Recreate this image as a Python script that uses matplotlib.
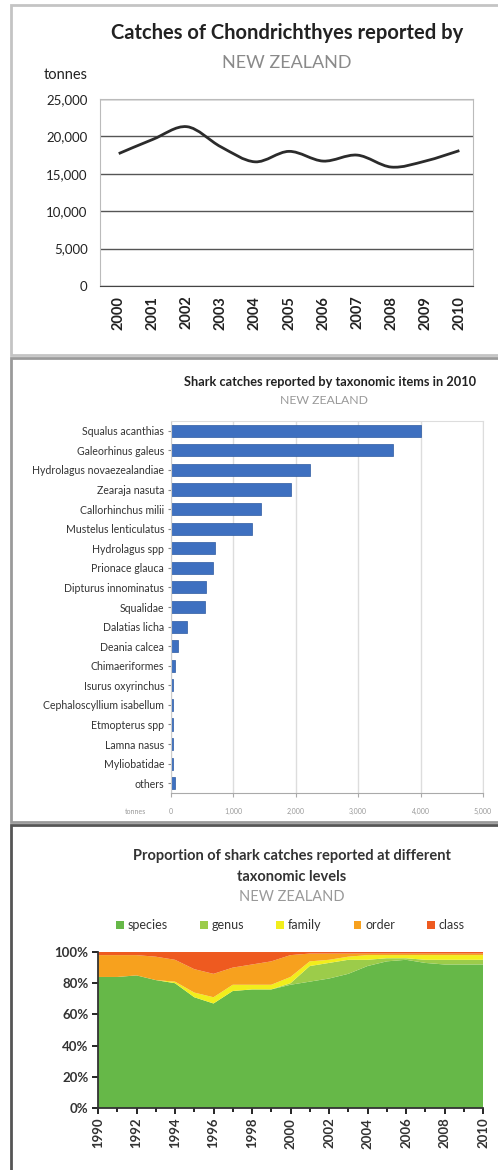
import numpy as np
import matplotlib
matplotlib.use('Agg')
import matplotlib.pyplot as plt
from matplotlib.patches import Rectangle, PathPatch
from matplotlib.path import Path
from matplotlib.ticker import FuncFormatter, MultipleLocator

plt.rcParams['font.family'] = ['Lato', 'DejaVu Sans']

# panel 1: total catches by year
years_total = ['2000', '2001', '2002', '2003', '2004', '2005', '2006', '2007', '2008', '2009', '2010']
catch_total = [17700, 19600, 21300, 18600, 16600, 18000, 16700, 17500, 15900, 16700, 18100]

# panel 2: catches by taxonomic item in 2010
taxa = ['Squalus acanthias', 'Galeorhinus galeus', 'Hydrolagus novaezealandiae', 'Zearaja nasuta',
        'Callorhinchus milii', 'Mustelus lenticulatus', 'Hydrolagus spp', 'Prionace glauca',
        'Dipturus innominatus', 'Squalidae', 'Dalatias licha', 'Deania calcea', 'Chimaeriformes',
        'Isurus oxyrinchus', 'Cephaloscyllium isabellum', 'Etmopterus spp', 'Lamna nasus',
        'Myliobatidae', 'others']
taxa_catch = [4000, 3560, 2230, 1930, 1450, 1300, 710, 670, 560, 550, 250, 120, 70, 40, 40, 40, 30, 30, 60]

# panel 3: share of catches by taxonomic level (%)
years_prop = list(range(1990, 2011))
share_species = [84, 84, 85, 82, 80, 71, 67, 75, 76, 76, 79, 81, 83, 86, 91, 94, 95, 93, 92, 92, 92]
share_genus = [0, 0, 0, 0, 0, 0, 0, 0, 0, 0, 1, 10, 10, 9, 4, 2, 1, 2, 3, 3, 3]
share_family = [0, 0, 0, 0, 1, 3, 4, 4, 3, 3, 4, 3, 2, 2, 3, 2, 2, 3, 3, 3, 3]
share_order = [14, 14, 13, 15, 14, 15, 15, 11, 13, 15, 14, 5, 4, 2, 1, 1, 1, 1, 1, 1, 1]
share_class = [2, 2, 2, 3, 5, 11, 14, 10, 8, 6, 2, 1, 1, 1, 1, 1, 1, 1, 1, 1, 1]
level_names = ['species', 'genus', 'family', 'order', 'class']
level_colors = ['#66b848', '#9ccc4a', '#f2ee1c', '#f7a11e', '#ee5a20']

W, H = 498, 1170
fig = plt.figure(figsize=(W / 100, H / 100), dpi=100)


def fx(px):
    return px / W


def fy(py):
    return 1 - py / H


def axes_px(left, top, right, bottom):
    """Add axes from pixel box (top-left origin)."""
    return fig.add_axes([fx(left), fy(bottom), fx(right - left), (bottom - top) / H])


def smooth_path(xs, ys):
    """Catmull-Rom curve through the points, as bezier path."""
    verts = [(xs[0], ys[0])]
    codes = [Path.MOVETO]
    n = len(xs)
    for i in range(n - 1):
        x0, y0 = (xs[i - 1], ys[i - 1]) if i > 0 else (xs[i], ys[i])
        x3, y3 = (xs[i + 2], ys[i + 2]) if i + 2 < n else (xs[i + 1], ys[i + 1])
        x1, y1 = xs[i], ys[i]
        x2, y2 = xs[i + 1], ys[i + 1]
        c1 = (x1 + (x2 - x0) / 6, y1 + (y2 - y0) / 6)
        c2 = (x2 - (x3 - x1) / 6, y2 - (y3 - y1) / 6)
        verts += [c1, c2, (x2, y2)]
        codes += [Path.CURVE4] * 3
    return Path(verts, codes)


# panel frames
for top, bottom, ec in [(5, 355, '#c4c4c4'), (358, 822, '#9a9a9a'), (825, 1172, '#555555')]:
    fig.patches.append(Rectangle((fx(11), fy(bottom)), fx(W), (bottom - top) / H,
                                 transform=fig.transFigure, facecolor='white',
                                 edgecolor=ec, linewidth=2, zorder=-1))

# ---- panel 1: line chart ----
ax1 = axes_px(100, 99, 473, 286)
xpos = np.arange(len(years_total))
ax1.add_patch(PathPatch(smooth_path(xpos, catch_total), facecolor='none',
                        edgecolor='#2b2b2b', linewidth=2))
ax1.set_xlim(-0.55, len(years_total) - 0.6)
ax1.set_ylim(0, 25000)
ax1.set_yticks(range(0, 25001, 5000))
ax1.yaxis.set_major_formatter(FuncFormatter(lambda v, p: f'{int(v):,}'))
ax1.set_xticks(xpos)
ax1.set_xticklabels(years_total, rotation=90, fontsize=10.5, fontweight='bold', color='#222222')
ax1.tick_params(axis='y', labelsize=9.5, labelcolor='#222222', length=0, pad=9)
ax1.tick_params(axis='x', length=0, pad=7)
ax1.grid(axis='y', color='#555555', linewidth=1)
for s in ['left', 'top', 'right']:
    ax1.spines[s].set_color('#bbbbbb')
ax1.spines['bottom'].set_color('#444444')
ax1.set_axisbelow(True)
fig.text(fx(287), fy(33), 'Catches of Chondrichthyes reported by', ha='center', va='center',
         fontsize=14.5, fontweight='bold', color='#222222')
fig.text(fx(287), fy(63), 'NEW ZEALAND', ha='center', va='center', fontsize=13, color='#8a8a8a')
fig.text(fx(66), fy(75), 'tonnes', ha='center', va='center', fontsize=10.5, color='#222222')

# ---- panel 2: horizontal bars ----
ax2 = axes_px(171, 421, 483, 793)
ypos = np.arange(len(taxa))
ax2.barh(ypos, taxa_catch, height=0.62, color='#3e70c0', edgecolor='#2d5aa0', linewidth=0.5)
ax2.set_ylim(len(taxa) - 0.5, -0.5)
ax2.set_xlim(0, 5000)
ax2.set_xticks(range(0, 5001, 1000))
ax2.xaxis.set_major_formatter(FuncFormatter(lambda v, p: f'{int(v):,}'))
ax2.set_yticks(ypos)
ax2.set_yticklabels(taxa, fontsize=7.6, color='#333333')
ax2.tick_params(axis='y', length=2, pad=3, color='#888888')
ax2.tick_params(axis='x', labelsize=5, labelcolor='#999999', length=3, pad=8, color='#aaaaaa')
ax2.grid(axis='x', color='#dddddd', linewidth=1)
ax2.set_axisbelow(True)
for s in ['top', 'right']:
    ax2.spines[s].set_color('#dddddd')
ax2.spines['left'].set_color('#cccccc')
ax2.spines['bottom'].set_color('#aaaaaa')
fig.text(fx(330), fy(382), 'Shark catches reported by taxonomic items in 2010', ha='center',
         va='center', fontsize=9.2, fontweight='bold', color='#222222')
fig.text(fx(324), fy(401), 'NEW ZEALAND', ha='center', va='center', fontsize=8.8, color='#999999')
fig.text(fx(135), fy(812), 'tonnes', ha='center', va='center', fontsize=5, color='#999999')

# ---- panel 3: 100% stacked area ----
ax3 = axes_px(98, 952, 483, 1108)
shares = np.array([share_species, share_genus, share_family, share_order, share_class], dtype=float)
shares = shares / shares.sum(axis=0) * 100
polys = ax3.stackplot(years_prop, shares, colors=level_colors, labels=level_names, linewidth=0)
ax3.set_xlim(1990, 2010)
ax3.set_ylim(0, 100)
ax3.set_yticks(range(0, 101, 20))
ax3.yaxis.set_major_formatter(FuncFormatter(lambda v, p: f'{int(v)}%'))
ax3.set_xticks(range(1990, 2011, 2))
ax3.xaxis.set_minor_locator(MultipleLocator(1))
ax3.tick_params(axis='x', labelrotation=90, labelsize=9.5, length=4, width=1.2, pad=3)
ax3.tick_params(axis='x', which='minor', length=3, width=1.2)
ax3.tick_params(axis='y', labelsize=9.5, length=4, width=1.2, pad=3)
for lab in ax3.get_xticklabels() + ax3.get_yticklabels():
    lab.set_fontweight('bold')
    lab.set_color('#333333')
for s in ['top', 'right']:
    ax3.spines[s].set_visible(False)
ax3.spines['left'].set_color('#333333')
ax3.spines['bottom'].set_color('#333333')
ax3.spines['left'].set_linewidth(1.3)
ax3.spines['bottom'].set_linewidth(1.3)
ax3.legend(loc='lower center', bbox_to_anchor=(0.5, 1.06), ncol=5, frameon=False, fontsize=9,
           handlelength=0.6, handleheight=0.6, handletextpad=0.3, columnspacing=2.6,
           labelcolor='#333333')
fig.text(fx(292), fy(856), 'Proportion of shark catches reported at different', ha='center',
         va='center', fontsize=10.5, fontweight='bold', color='#333333')
fig.text(fx(292), fy(877), 'taxonomic levels', ha='center', va='center', fontsize=10.5,
         fontweight='bold', color='#333333')
fig.text(fx(292), fy(897), 'NEW ZEALAND', ha='center', va='center', fontsize=10.5, color='#999999')

fig.savefig('out.png', dpi=100)
